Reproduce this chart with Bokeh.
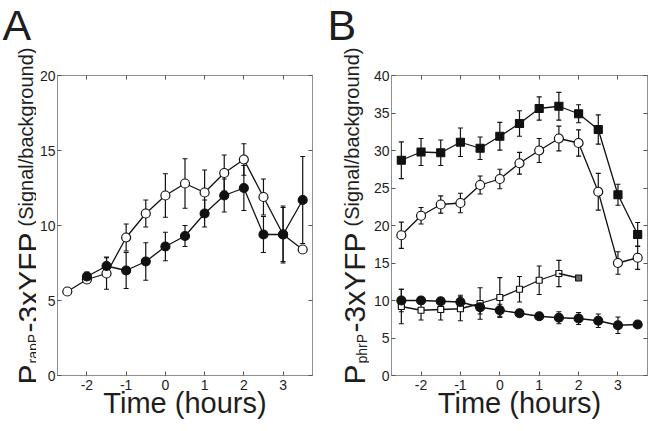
import math
from bokeh.plotting import figure
from bokeh.models import (Range1d, LinearAxis, FixedTicker, Whisker, ColumnDataSource, TeeHead,
                          NumeralTickFormatter)
from bokeh.core.properties import value
from bokeh.layouts import row
from bokeh.embed import file_html
from bokeh.resources import INLINE

# ---------------- data ----------------
x_ticks = [-2, -1, 0, 1, 2, 3]
yA_ticks = [0, 5, 10, 15, 20]
yB_ticks = [0, 5, 10, 15, 20, 25, 30, 35, 40]

# Panel A
A_time_open = [-2.5, -2.0, -1.5, -1.0, -0.5, 0.0, 0.5, 1.0, 1.5, 2.0, 2.5, 3.0, 3.5]
A_open = [5.6, 6.4, 6.8, 9.2, 10.8, 12.0, 12.8, 12.2, 13.5, 14.4, 11.9, 9.4, 8.4]
A_open_err = [0.15, 0.25, 1.05, 0.9, 0.9, 1.45, 1.65, 1.5, 1.2, 1.05, 1.2, 1.8, 0.2]

A_time_filled = [-2.0, -1.5, -1.0, -0.5, 0.0, 0.5, 1.0, 1.5, 2.0, 2.5, 3.0, 3.5]
A_filled = [6.6, 7.3, 7.0, 7.6, 8.6, 9.3, 10.8, 12.0, 12.5, 9.4, 9.4, 11.7]
A_filled_err = [0.3, 0.6, 1.2, 1.25, 0.95, 0.7, 0.9, 1.1, 1.5, 1.2, 1.9, 2.9]

# Panel B
B_time = [-2.5, -2.0, -1.5, -1.0, -0.5, 0.0, 0.5, 1.0, 1.5, 2.0, 2.5, 3.0, 3.5]
B_sq_filled = [28.7, 29.8, 29.7, 31.1, 30.3, 31.9, 33.6, 35.6, 35.9, 34.9, 32.8, 24.1, 18.8]
B_sq_filled_err = [2.45, 1.8, 1.7, 1.9, 1.5, 1.85, 1.7, 1.55, 1.85, 1.2, 1.95, 1.4, 1.6]
B_circ_open = [18.7, 21.3, 22.8, 23.0, 25.4, 26.2, 28.3, 30.0, 31.6, 31.0, 24.5, 15.0, 15.7]
B_circ_open_err = [1.75, 1.1, 1.15, 1.3, 1.2, 1.3, 1.45, 1.6, 1.65, 1.75, 2.45, 1.5, 1.55]
B_circ_filled = [10.0, 10.0, 9.9, 9.8, 9.1, 8.7, 8.3, 7.9, 7.7, 7.6, 7.3, 6.7, 6.8]
B_circ_filled_err = [1.5, 0.3, 0.3, 0.9, 0.9, 0.8, 0.4, 0.4, 0.8, 0.8, 0.9, 1.1, 0.2]
B_time_sq_open = [-2.5, -2.0, -1.5, -1.0, -0.5, 0.0, 0.5, 1.0, 1.5, 2.0]
B_sq_open = [9.2, 8.7, 8.8, 8.9, 9.6, 10.4, 11.5, 12.7, 13.6, 13.0]
B_sq_open_err = [2.3, 1.3, 1.4, 1.6, 2.1, 2.65, 1.7, 1.9, 1.75, 0.0]

FONT = "Liberation Sans"
GRAY = "#8f8f8f"
TXT = "#1e1e1e"
INK = "#111111"
H = 430


def make_fig(width, left, right, ymax, yticks):
    p = figure(width=width, height=H, x_range=Range1d(-2.75, 3.75), y_range=Range1d(0, ymax),
               output_backend="svg", toolbar_location=None,
               min_border_left=left, min_border_right=right, min_border_top=75, min_border_bottom=55,
               background_fill_color="white", border_fill_color="white")
    p.frame_align = False
    p.xgrid.visible = False
    p.ygrid.visible = False
    p.outline_line_color = GRAY
    p.outline_line_width = 1

    def style(ax, ticks, labels=True):
        ax.ticker = FixedTicker(ticks=ticks)
        ax.major_tick_in = 4
        ax.major_tick_out = 0
        ax.minor_tick_line_color = None
        ax.axis_line_color = GRAY
        ax.major_tick_line_color = "#555555"
        if labels:
            ax.formatter = NumeralTickFormatter(format="0")
            ax.major_label_text_font = FONT
            ax.major_label_text_font_size = "14px"
            ax.major_label_text_color = TXT
        else:
            ax.major_label_text_font_size = "0px"
            ax.major_label_standoff = 0

    style(p.xaxis[0], x_ticks)
    p.xaxis[0].major_label_standoff = 4
    p.xaxis[0].axis_label = "Time (hours)"
    p.xaxis[0].axis_label_text_font = FONT
    p.xaxis[0].axis_label_text_font_size = "29px"
    p.xaxis[0].axis_label_text_font_style = "normal"
    p.xaxis[0].axis_label_text_color = TXT
    p.xaxis[0].axis_label_standoff = -6
    style(p.yaxis[0], yticks)
    p.yaxis[0].major_label_standoff = 2

    top = LinearAxis()
    style(top, x_ticks, labels=False)
    p.add_layout(top, "above")
    rt = LinearAxis()
    style(rt, yticks, labels=False)
    p.add_layout(rt, "right")
    return p


def series(p, t, y, err, marker, size, fill, line=True):
    src = ColumnDataSource(dict(t=t, y=y,
                                lo=[a - b for a, b in zip(y, err)],
                                hi=[a + b for a, b in zip(y, err)]))
    w = Whisker(base="t", lower="lo", upper="hi", source=src, line_color=INK, line_width=1.2,
                upper_head=TeeHead(size=5, line_color=INK, line_width=1.2),
                lower_head=TeeHead(size=5, line_color=INK, line_width=1.2))
    p.add_layout(w)
    if line:
        p.line("t", "y", source=src, line_color=INK, line_width=1.3)
    p.scatter("t", "y", source=src, marker=marker, size=size, fill_color=fill,
              line_color=INK, line_width=1.2)
    return src


def label_fig(width, letter, letter_x, sub, big_x, sub_x, small_x):
    # a blank strip whose frame is the whole canvas (1 unit = 1 px), holding the texts
    q = figure(width=width, height=H, x_range=Range1d(0, width), y_range=Range1d(0, H),
               title=None, output_backend="svg", toolbar_location=None,
               x_axis_type=None, y_axis_type=None,
               min_border=0, min_border_left=0, min_border_right=0, min_border_top=0,
               min_border_bottom=0, outline_line_color=None, background_fill_color="white",
               border_fill_color="white")
    q.frame_align = False
    q.xgrid.visible = False
    q.ygrid.visible = False
    q.text(x=[letter_x], y=[H - 24], text=[letter], text_font=value(FONT),
           text_font_size=value("43px"), text_color=TXT, text_align="left",
           text_baseline="alphabetic")
    # rotated y label: P_sub-3xYFP (Signal/background), pieces placed along the line
    parts = [("P", "30px", big_x, H - 384),
             (sub, "14px", sub_x, H - 363),
             ("-3xYFP", "30px", big_x, H - 332),
             ("(Signal/background)", "20px", small_x, H - 226)]
    for text, size, xx, yy in parts:
        q.text(x=[xx], y=[yy], text=[text], angle=math.pi / 2, text_font=value(FONT),
               text_font_size=value(size), text_color=TXT, text_align="left",
               text_baseline="alphabetic")
    return q


# ---------------- panel A ----------------
LA = label_fig(36, "A", 2, "rapP", 28, 32, 25)
pA = make_fig(288, 18, 12, 20, yA_ticks)
series(pA, A_time_open, A_open, A_open_err, "circle", 9, "white")
series(pA, A_time_filled, A_filled, A_filled_err, "circle", 9, INK)

# ---------------- panel B ----------------
LB = label_fig(45, "B", 3, "phrP", 30, 37, 27)
pB = make_fig(280, 22, 2, 40, yB_ticks)
series(pB, B_time, B_sq_filled, B_sq_filled_err, "square", 8, INK)
series(pB, B_time, B_circ_open, B_circ_open_err, "circle", 9, "white")
n = len(B_time_sq_open) - 1
series(pB, B_time_sq_open[:n], B_sq_open[:n], B_sq_open_err[:n], "square", 6, "white")
pB.line(B_time_sq_open[n - 1:], B_sq_open[n - 1:], line_color=INK, line_width=1.3)
pB.scatter(B_time_sq_open[n:], B_sq_open[n:], marker="square", size=6, fill_color="#666666",
           line_color=INK, line_width=1.2)
series(pB, B_time, B_circ_filled, B_circ_filled_err, "circle", 9, INK)

layout = row(LA, pA, LB, pB)
open("out.html", "w").write(file_html(layout, INLINE))
